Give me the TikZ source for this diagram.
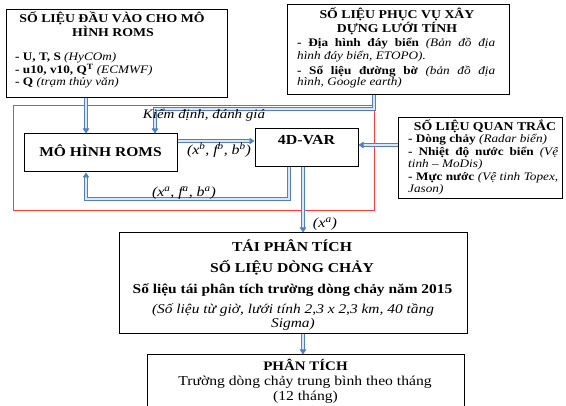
\documentclass[tikz,border=0pt]{standalone}
\usepackage{fontspec}
\setmainfont{Liberation Serif}[FakeStretch=1.15]
\usetikzlibrary{arrows.meta,calc}
\definecolor{ablue}{HTML}{4F81BD}
\definecolor{apale}{HTML}{DCE6F2}
\definecolor{rboxc}{HTML}{FF3B3B}
\begin{document}
\begin{tikzpicture}[x=1pt,y=-1pt,
  box/.style={draw=black, line width=1pt, inner sep=0pt, fill=white},
  tl/.style={inner sep=0pt, anchor=base},
  tw/.style={inner sep=0pt, anchor=base west},
  flow/.style={draw=ablue, line width=0.75pt, double=apale, double distance=1.7pt, -{Triangle[length=5pt,width=6.5pt]}},
  ttl/.style={font=\fontsize{12}{13}\selectfont\bfseries},
  bdy/.style={font=\fontsize{11.5}{13}\selectfont},
  lbl/.style={inner sep=0pt, anchor=base, font=\fontsize{13}{14}\selectfont\itshape}
]
\useasboundingbox (0,0) rectangle (566,406);
\clip (0,0) rectangle (566,406);

% red frame
\node[draw=rboxc, line width=0.8pt, inner sep=0pt, minimum width=361pt, minimum height=105pt] (frame) at (193.5,157.5) {};

% boxes
\node[box, minimum width=221pt, minimum height=88pt] (in1) at (116.5,54) {};
\node[box, minimum width=222pt, minimum height=90pt] (grid) at (398,50) {};
\node[box, minimum width=153pt, minimum height=38pt] (roms) at (100.5,153) {};
\node[box, minimum width=103pt, minimum height=38pt] (var) at (306.5,148) {};
\node[box, minimum width=164pt, minimum height=81pt] (obs) at (480,158.5) {};
\node[box, minimum width=348pt, minimum height=101pt] (rean) at (293,283.5) {};
\node[box, minimum width=317pt, minimum height=60pt] (ana) at (305.5,385) {};

% helper x / y positions
\coordinate (xa) at (86,0);
\coordinate (xb) at (155,0);
\coordinate (xc) at (374,0);
\coordinate (xd) at (289,0);
\coordinate (xe) at (303,0);
\coordinate (ya) at (0,109);
\coordinate (yb) at (0,199);
\coordinate (yc) at (0,141);
\coordinate (yd) at (0,145);

% connectors
\draw[flow] (in1.south -| xa) -- (roms.north -| xa);
\draw[flow] (grid.south -| xc) -- (xc |- ya) -- (xb |- ya) -- (roms.north -| xb);
\draw[flow] (roms.east |- yc) -- (var.west |- yc);
\draw[flow] (var.south -| xd) -- (xd |- yb) -- (xa |- yb) -- (roms.south -| xa);
\draw[flow] (var.south -| xe) -- (rean.north -| xe);
\draw[flow] (obs.west |- yd) -- (var.east |- yd);
\draw[flow] (rean.south -| xe) -- (ana.north -| xe);

% box 1 text
\node[tl, ttl] (t11) at (112,23) {SỐ LIỆU ĐẦU VÀO CHO MÔ};
\node[tl, ttl] (t12) at (113,37) {HÌNH ROMS};
\node[tw, bdy] (t13) at (15,61) {\textbf{- U, T, S} \textit{(HyCOm)}};
\node[tw, bdy] (t14) at (15,74) {\textbf{- u10, v10, Q\textsuperscript{T}} \textit{(ECMWF)}};
\node[tw, bdy] (t15) at (15,86) {\textbf{- Q} \textit{(trạm thủy văn)}};

% box 2 text
\node[tl, ttl] (t21) at (397,19) {SỐ LIỆU PHỤC VỤ XÂY};
\node[tl, ttl] (t22) at (397,33) {DỰNG LƯỚI TÍNH};
\node[tw, bdy] (t23) at (297,47) {\makebox[198pt][s]{\textbf{- Địa hình đáy biển} \textit{(Bản đồ địa}}};
\node[tw, bdy] (t24) at (297,59.5) {\textit{hình đáy biển, ETOPO).}};
\node[tw, bdy] (t25) at (297,74.5) {\makebox[198pt][s]{\textbf{- Số liệu đường bờ} \textit{(bản đồ địa}}};
\node[tw, bdy] (t26) at (297,86) {\textit{hình, Google earth)}};

% observation text
\node[tl, ttl] (t31) at (485,131) {SỐ LIỆU QUAN TRẮC};
\node[tw, bdy] (t32) at (408,143) {\textbf{- Dòng chảy} \textit{(Radar biển)}};
\node[tw, bdy] (t33) at (408,156) {\makebox[150pt][s]{\textbf{- Nhiệt độ nước biển} \textit{(Vệ}}};
\node[tw, bdy] (t34) at (408,168) {\textit{tinh – MoDis)}};
\node[tw, bdy] (t35) at (408,181) {\makebox[150pt][s]{\textbf{- Mực nước} \textit{(Vệ tinh Topex,}}};
\node[tw, bdy] (t36) at (408,193) {\textit{Jason)}};

% main boxes text
\node[tl, font=\fontsize{13.5}{14}\selectfont\bfseries] (troms) at (100.5,156.5) {MÔ HÌNH ROMS};
\node[tl, font=\fontsize{13.8}{15}\selectfont\bfseries] (tvar) at (306.5,145) {4D-VAR};

% labels
\node[lbl] (l1) at (204,119) {Kiểm định, đánh giá};
\node[lbl, font=\fontsize{13.8}{15}\selectfont\itshape] (l2) at (219,154.5) {(x\textsuperscript{b}, f\textsuperscript{b}, b\textsuperscript{b})};
\node[lbl, font=\fontsize{13.8}{15}\selectfont\itshape] (l3) at (184,196.5) {(x\textsuperscript{a}, f\textsuperscript{a}, b\textsuperscript{a})};
\node[lbl, font=\fontsize{14}{15}\selectfont\itshape] (l4) at (325,227.5) {(x\textsuperscript{a})};

% reanalysis text
\node[tl, font=\fontsize{13.6}{15}\selectfont\bfseries] (t41) at (292,251.5) {TÁI PHÂN TÍCH};
\node[tl, font=\fontsize{13.6}{15}\selectfont\bfseries] (t42) at (292,272.5) {SỐ LIỆU DÒNG CHẢY};
\node[tl, font=\fontsize{13.4}{14}\selectfont\bfseries] (t43) at (292.5,293.5) {Số liệu tái phân tích trường dòng chảy năm 2015};
\node[tl, font=\fontsize{13.4}{14}\selectfont\itshape] (t44) at (293,314) {(Số liệu từ giờ, lưới tính 2,3 x 2,3 km, 40 tầng};
\node[tl, font=\fontsize{13.4}{14}\selectfont\itshape] (t45) at (293,328) {Sigma)};

% analysis text
\node[tl, font=\fontsize{13}{14}\selectfont\bfseries] (t51) at (305.5,371) {PHÂN TÍCH};
\node[tl, font=\fontsize{13.6}{14}\selectfont] (t52) at (305,386) {Trường dòng chảy trung bình theo tháng};
\node[tl, font=\fontsize{13.6}{14}\selectfont] (t53) at (305.5,401) {(12 tháng)};
\end{tikzpicture}
\end{document}
